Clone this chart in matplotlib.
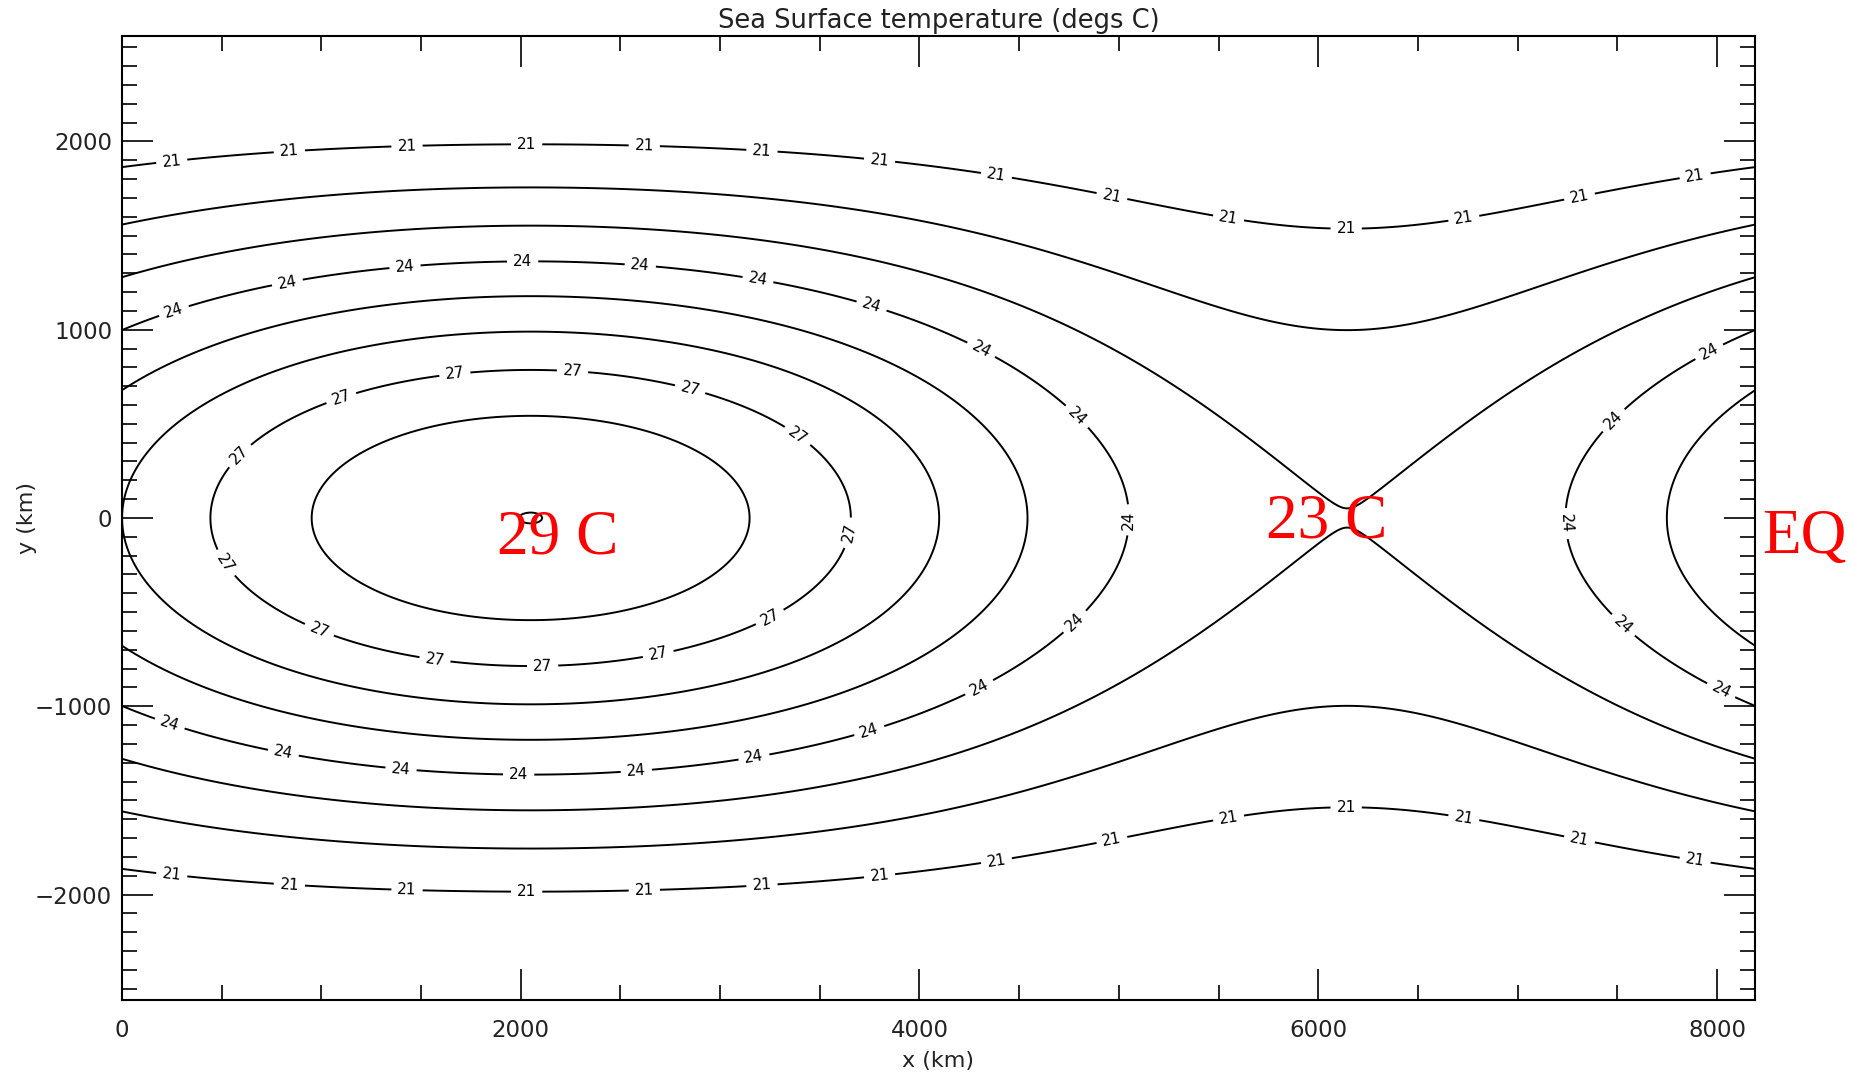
import matplotlib.pyplot as plt
import numpy as np

# where each isotherm crosses a meridian (km from the equator, northern half;
# the field is symmetric about the equator)
ridge_y = [547, 790, 990, 1179, 1363, 1547, 1749, 1991]   # through the warm pool, x = 2050 km
ridge_t = [28, 27, 26, 25, 24, 23, 22, 21]
mid_y = [688, 1001, 1277, 1551, 1867]                     # x = 0 and x = 4100 km
mid_t = [25, 24, 23, 22, 21]
col_y = [996, 1535]                                       # through the cold col, x = 6145 km
col_t = [22, 21]

peak_temp = 29      # warm pool maximum on the equator
col_temp = 23       # temperature at the saddle
x_warm, x_col = 2050, 6145
x_max, y_max = 8190, 2560

levels = list(range(21, 30))
labelled = [21, 24, 27]


def profile(ys, ts, t0):
    """Gaussian drop-off from t0 on the equator, fitted to the crossings."""
    ys = np.asarray(ys, float)
    drop = t0 - np.asarray(ts, float)
    best = None
    for w in np.arange(600.0, 5000.0, 5.0):
        g = 1 - np.exp(-(ys / w) ** 2)
        k = g @ drop / (g @ g)
        err = np.sum((k * g - drop) ** 2)
        if best is None or err < best[0]:
            best = (err, w, k)
    _, w, k = best
    return lambda y: t0 - k * (1 - np.exp(-(y / w) ** 2))


ridge = profile(ridge_y, ridge_t, peak_temp)
mid = profile(mid_y, mid_t, (peak_temp + col_temp) / 2)
col = profile(col_y, col_t, col_temp)

x = np.linspace(0, x_max, 820)
y = np.linspace(-y_max, y_max, 513)
X, Y = np.meshgrid(x, y)
P, A, M = ridge(Y), mid(Y), col(Y)
phi = np.pi * (X - x_warm) / (x_col - x_warm)
a1 = (P - M) / 2
a0 = ((P + M) / 2 + A) / 2
a2 = ((P + M) / 2 - A) / 2
# tiny lift so the 29 level closes round the peak and the 23 level splits at the col
sst = a0 + a1 * np.cos(phi) + a2 * np.cos(2 * phi) + 0.003

fig = plt.figure(figsize=(18.52, 10.77), dpi=100)
ax = fig.add_axes([0.0658, 0.0715, 0.8818, 0.8951])
plain = [v for v in levels if v not in labelled]
ax.contour(X, Y, sst, levels=plain, colors='black', linewidths=1.4)
cs = ax.contour(X, Y, sst, levels=labelled, colors='black', linewidths=1.4)
ax.set_xlim(0, x_max)
ax.set_ylim(-y_max, y_max)

# labels every ~118 px along the labelled isotherms
spots = []
for path in cs.get_paths():
    verts, codes = path.vertices, path.codes
    if codes is None:
        pieces = [verts]
    else:
        starts = list(np.flatnonzero(codes == 1)) + [len(verts)]
        pieces = [verts[a:b] for a, b in zip(starts[:-1], starts[1:])]
    for seg in pieces:
        if len(seg) < 3:
            continue
        if seg[0, 0] > seg[-1, 0]:
            seg = seg[::-1]
        pts = ax.transData.transform(seg)
        s = np.concatenate([[0], np.cumsum(np.hypot(*np.diff(pts, axis=0).T))])
        for d in np.arange(50, s[-1] - 25, 118):
            j = min(np.searchsorted(s, d), len(seg) - 1)
            spots.append((seg[j, 0], seg[j, 1]))
cs.clabel(manual=spots, inline=True, fmt='%d', fontsize=11, inline_spacing=6)

ax.set_xticks(np.arange(0, 8001, 2000))
ax.set_xticks(np.arange(0, x_max, 500), minor=True)
ax.set_yticks(np.arange(-2000, 2001, 1000))
ax.set_yticks(np.arange(-2500, 2501, 100), minor=True)
ax.tick_params(which='both', direction='in', top=True, right=True, width=1.2)
ax.tick_params(which='major', length=22)
ax.tick_params(which='minor', length=11)
ax.tick_params(axis='x', pad=14)
ax.tick_params(axis='y', pad=7)
ax.tick_params(labelsize=16.5, labelcolor='#222222')
for sp in ax.spines.values():
    sp.set_linewidth(1.5)

ax.set_title('Sea Surface temperature (degs C)', fontsize=18.5, pad=6, color='#222222')
ax.set_xlabel('x (km)', fontsize=16, color='#222222')
ax.set_ylabel('y (km)', fontsize=16, color='#222222')
ax.xaxis.set_label_coords(0.5, -0.053)
ax.yaxis.set_label_coords(-0.052, 0.5)

red = dict(color='red', family='Liberation Serif', fontsize=45.5, va='baseline')
ax.text(2186, -186, f'{peak_temp} C', ha='center', **red)
ax.text(6041, -101, f'{col_temp} C', ha='center', **red)
ax.text(8226, -186, 'EQ', ha='left', clip_on=False, **red)

fig.savefig('out.png', dpi=100)
